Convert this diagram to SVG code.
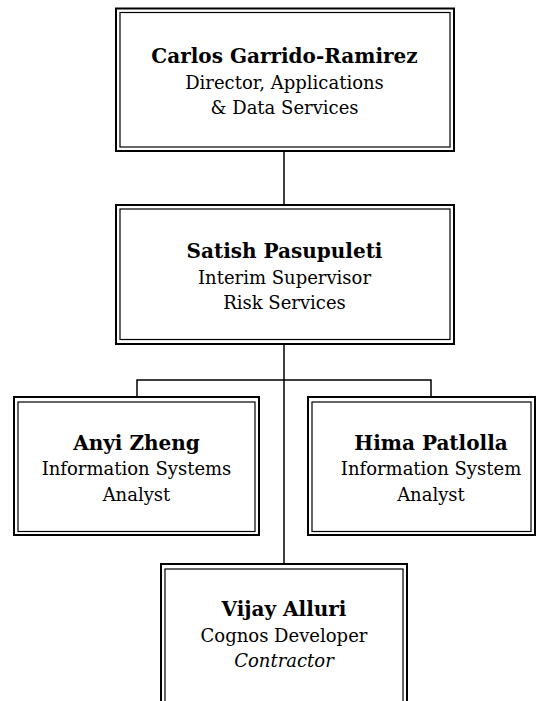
<svg xmlns="http://www.w3.org/2000/svg" width="540" height="701" viewBox="0 0 540 701">
<style>
.outer{fill:none;stroke:#000;stroke-width:2}
.inner{fill:none;stroke:#000;stroke-width:1.2}
.conn{fill:none;stroke:#000;stroke-width:1.5}
text{font-family:"DejaVu Serif","Liberation Serif",serif;fill:#000;text-anchor:middle}
.n{font-weight:bold;font-size:20px}
.t{font-size:18px}
.i{font-size:18px;font-style:italic}
</style>
<rect width="540" height="701" fill="#fff"/>
<g id="connectors">
<path class="conn" d="M284 151V205"/>
<path class="conn" d="M284 344V564"/>
<path class="conn" d="M137 397V380H431V397"/>
</g>
<g id="carlos">
<rect class="outer" x="116" y="8.5" width="338" height="142.5"/>
<rect class="inner" x="120" y="12.5" width="330" height="134.5"/>
<text class="n" x="284.5" y="63">Carlos Garrido-Ramirez</text>
<text class="t" x="284.5" y="88.5">Director, Applications</text>
<text class="t" x="284.5" y="114">&amp; Data Services</text>
</g>
<g id="satish">
<rect class="outer" x="116" y="205" width="338" height="139"/>
<rect class="inner" x="120" y="209" width="330" height="130.5"/>
<text class="n" x="284.5" y="258">Satish Pasupuleti</text>
<text class="t" x="284.5" y="283.5">Interim Supervisor</text>
<text class="t" x="284.5" y="309">Risk Services</text>
</g>
<g id="anyi">
<rect class="outer" x="14" y="397" width="245" height="138"/>
<rect class="inner" x="18" y="402" width="237" height="129.5"/>
<text class="n" x="136.5" y="449.5">Anyi Zheng</text>
<text class="t" x="136.5" y="475">Information Systems</text>
<text class="t" x="136.5" y="500.5">Analyst</text>
</g>
<g id="hima">
<rect class="outer" x="308" y="397" width="227" height="138"/>
<rect class="inner" x="312" y="402" width="219" height="129.5"/>
<text class="n" x="431" y="449.5">Hima Patlolla</text>
<text class="t" x="431" y="475">Information System</text>
<text class="t" x="431" y="500.5">Analyst</text>
</g>
<g id="vijay">
<rect class="outer" x="161" y="564" width="246" height="160"/>
<rect class="inner" x="165" y="569" width="238" height="150"/>
<text class="n" x="284" y="616">Vijay Alluri</text>
<text class="t" x="284" y="641.5">Cognos Developer</text>
<text class="i" x="284" y="667">Contractor</text>
</g>
</svg>
